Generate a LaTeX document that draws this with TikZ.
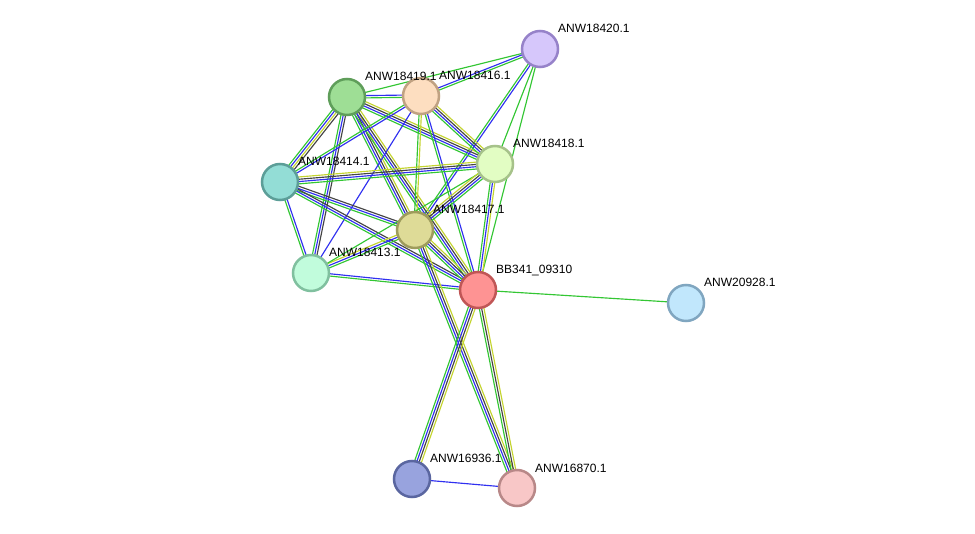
\documentclass[tikz,border=0pt]{standalone}
\usepackage{fontspec}
\setmainfont{Liberation Sans}
\usetikzlibrary{calc}
\pgfdeclarelayer{background}
\pgfsetlayers{background,main}
\definecolor{sg}{HTML}{33C633}
\definecolor{sb}{HTML}{3030F0}
\definecolor{sk}{HTML}{444444}
\definecolor{sy}{HTML}{C4D430}
\definecolor{f20}{HTML}{D6C7FB}\definecolor{d20}{HTML}{9682C9}
\definecolor{f19}{HTML}{9EDE95}\definecolor{d19}{HTML}{5F9E5A}
\definecolor{f16}{HTML}{FDDEC0}\definecolor{d16}{HTML}{C0A282}
\definecolor{f18}{HTML}{E2FDC3}\definecolor{d18}{HTML}{A6C28A}
\definecolor{f14}{HTML}{93DDD6}\definecolor{d14}{HTML}{5C9E98}
\definecolor{f17}{HTML}{DEDB97}\definecolor{d17}{HTML}{9E9C5C}
\definecolor{f13}{HTML}{C1FCDC}\definecolor{d13}{HTML}{80C09F}
\definecolor{fbb}{HTML}{FE9393}\definecolor{dbb}{HTML}{C05656}
\definecolor{f28}{HTML}{C1E7FC}\definecolor{d28}{HTML}{80A6C0}
\definecolor{f36}{HTML}{98A3DE}\definecolor{d36}{HTML}{5A66A0}
\definecolor{f70}{HTML}{F8C7C7}\definecolor{d70}{HTML}{B88888}
\tikzset{
  prot/.style={circle,minimum size=36pt,inner sep=0pt,line width=2.5pt},
  lbl/.style={anchor=base west,font=\fontsize{12}{14}\selectfont,inner sep=0pt},
  edge/.style={line width=1.15pt},
}
\newcommand{\sedge}[4]{%
  \foreach \c [count=\i] in {#4}{%
    \pgfmathsetmacro\off{(\i-(#3+1)/2)*2.3}%
    \draw[edge,draw=\c] ($(#1.center)!\off pt!90:(#2.center)$) -- ($(#2.center)!\off pt!-90:(#1.center)$);
  }}
\begin{document}
\begin{tikzpicture}[x=1pt,y=-1pt]
\useasboundingbox (0,0) rectangle (975,534);
\node[prot,fill=f20,draw=d20] (p20) at (540,49) {};
\node[prot,fill=f19,draw=d19] (p19) at (347,97) {};
\node[prot,fill=f16,draw=d16] (p16) at (421,96) {};
\node[prot,fill=f18,draw=d18] (p18) at (495,164) {};
\node[prot,fill=f14,draw=d14] (p14) at (280,182) {};
\node[prot,fill=f17,draw=d17] (p17) at (415,230) {};
\node[prot,fill=f13,draw=d13] (p13) at (311,273) {};
\node[prot,fill=fbb,draw=dbb] (bb) at (478,290) {};
\node[prot,fill=f28,draw=d28] (p28) at (686,303) {};
\node[prot,fill=f36,draw=d36] (p36) at (412,479) {};
\node[prot,fill=f70,draw=d70] (p70) at (517,488) {};
\begin{pgfonlayer}{background}
\sedge{p19}{p16}{2}{sg,sb}
\sedge{p19}{p20}{1}{sg}
\sedge{p16}{p20}{2}{sg,sb}
\sedge{p20}{p18}{1}{sg}
\sedge{p20}{p17}{2}{sg,sb}
\sedge{p20}{bb}{1}{sg}
\sedge{p19}{p14}{4}{sg,sb,sy,sk}
\sedge{p19}{p13}{3}{sg,sb,sk}
\sedge{p19}{p18}{4}{sg,sb,sk,sy}
\sedge{p19}{p17}{4}{sg,sb,sk,sy}
\sedge{p19}{bb}{4}{sg,sb,sk,sy}
\sedge{p16}{p14}{2}{sg,sb}
\sedge{p16}{p13}{1}{sb}
\sedge{p16}{p18}{4}{sg,sb,sk,sy}
\sedge{p16}{p17}{2}{sg,sy}
\sedge{p16}{bb}{2}{sg,sb}
\sedge{p14}{p18}{4}{sg,sb,sk,sy}
\sedge{p14}{p17}{3}{sg,sb,sk}
\sedge{p14}{bb}{3}{sg,sb,sk}
\sedge{p14}{p13}{2}{sg,sb}
\sedge{p13}{p17}{3}{sg,sb,sy}
\sedge{p13}{p18}{1}{sg}
\sedge{p13}{bb}{2}{sg,sb}
\sedge{p17}{p18}{4}{sg,sb,sk,sy}
\sedge{p17}{bb}{4}{sg,sb,sk,sy}
\sedge{p18}{bb}{3}{sg,sb,sy}
\sedge{p17}{p70}{4}{sg,sb,sk,sy}
\sedge{bb}{p36}{4}{sg,sb,sk,sy}
\sedge{bb}{p70}{3}{sg,sk,sy}
\sedge{p36}{p70}{1}{sb}
\sedge{bb}{p28}{1}{sg}
\end{pgfonlayer}
\foreach \n/\t in {p20/ANW18420.1,p19/ANW18419.1,p16/ANW18416.1,p18/ANW18418.1,p14/ANW18414.1,p17/ANW18417.1,p13/ANW18413.1,bb/BB341\_09310,p28/ANW20928.1,p36/ANW16936.1,p70/ANW16870.1}
  \node[lbl] (l\n) at ($(\n.center)+(18,-16)$) {\t};
\end{tikzpicture}
\end{document}
